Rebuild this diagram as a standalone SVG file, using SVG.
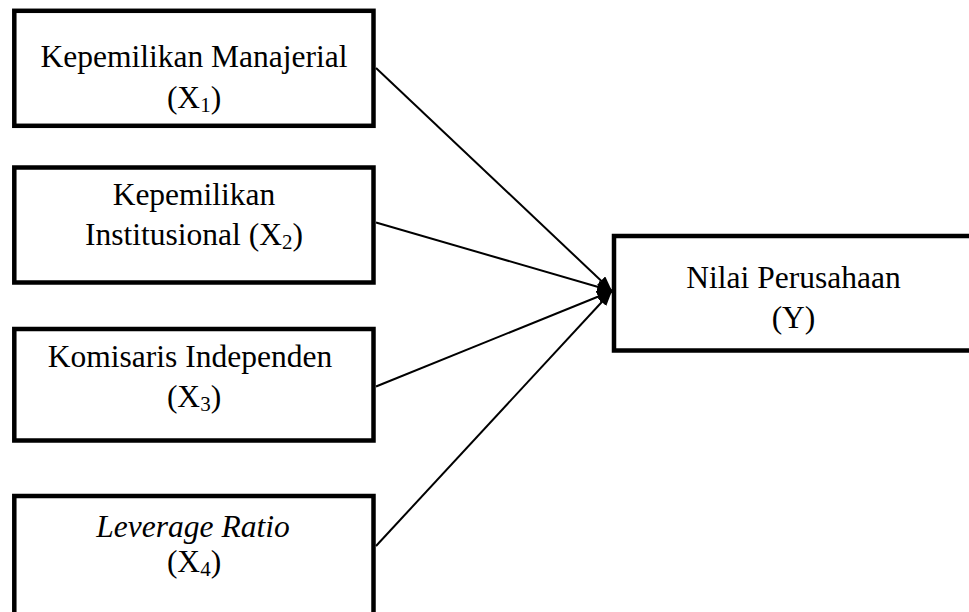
<svg xmlns="http://www.w3.org/2000/svg" width="969" height="612" viewBox="0 0 969 612">
<style>
.box{fill:#fff;stroke:#000;stroke-width:4.5}
.t{font-family:"Liberation Serif","Times New Roman",serif;font-size:31.5px;fill:#000;text-anchor:middle}
.it{font-style:italic}
.sub{font-size:21px}
.c{stroke:#000;stroke-width:2;fill:none}
</style>
<defs>
<marker id="ah" markerUnits="userSpaceOnUse" markerWidth="16" markerHeight="14" refX="15" refY="6" orient="auto">
<path d="M0,0 L15,6 L0,12 z" fill="#000"/>
</marker>
</defs>
<g id="connectors">
<line class="c" x1="376" y1="68" x2="612" y2="291" marker-end="url(#ah)"/>
<line class="c" x1="376" y1="222.5" x2="612" y2="291" marker-end="url(#ah)"/>
<line class="c" x1="376" y1="386.5" x2="612" y2="291" marker-end="url(#ah)"/>
<line class="c" x1="376" y1="546" x2="612" y2="291" marker-end="url(#ah)"/>
</g>
<g id="x1">
<rect class="box" x="14.3" y="10.8" width="359.2" height="115"/>
<text class="t" x="194" y="67">Kepemilikan Manajerial</text>
<text class="t" x="194" y="108">(X<tspan class="sub" dy="4">1</tspan><tspan dy="-4">)</tspan></text>
</g>
<g id="x2">
<rect class="box" x="14.3" y="167.5" width="359.2" height="115"/>
<text class="t" x="194" y="205">Kepemilikan</text>
<text class="t" x="194" y="245">Institusional (X<tspan class="sub" dy="4">2</tspan><tspan dy="-4">)</tspan></text>
</g>
<g id="x3">
<rect class="box" x="14.3" y="329" width="359.2" height="111.5"/>
<text class="t" x="190" y="367">Komisaris Independen</text>
<text class="t" x="194" y="407">(X<tspan class="sub" dy="4">3</tspan><tspan dy="-4">)</tspan></text>
</g>
<g id="x4">
<rect class="box" x="14.3" y="496" width="359.2" height="122"/>
<text class="t it" x="193" y="537">Leverage Ratio</text>
<text class="t" x="194" y="572">(X<tspan class="sub" dy="4">4</tspan><tspan dy="-4">)</tspan></text>
</g>
<g id="y">
<rect class="box" x="614" y="236" width="362" height="114.5"/>
<text class="t" x="793.5" y="288">Nilai Perusahaan</text>
<text class="t" x="793.5" y="328">(Y)</text>
</g>
</svg>
